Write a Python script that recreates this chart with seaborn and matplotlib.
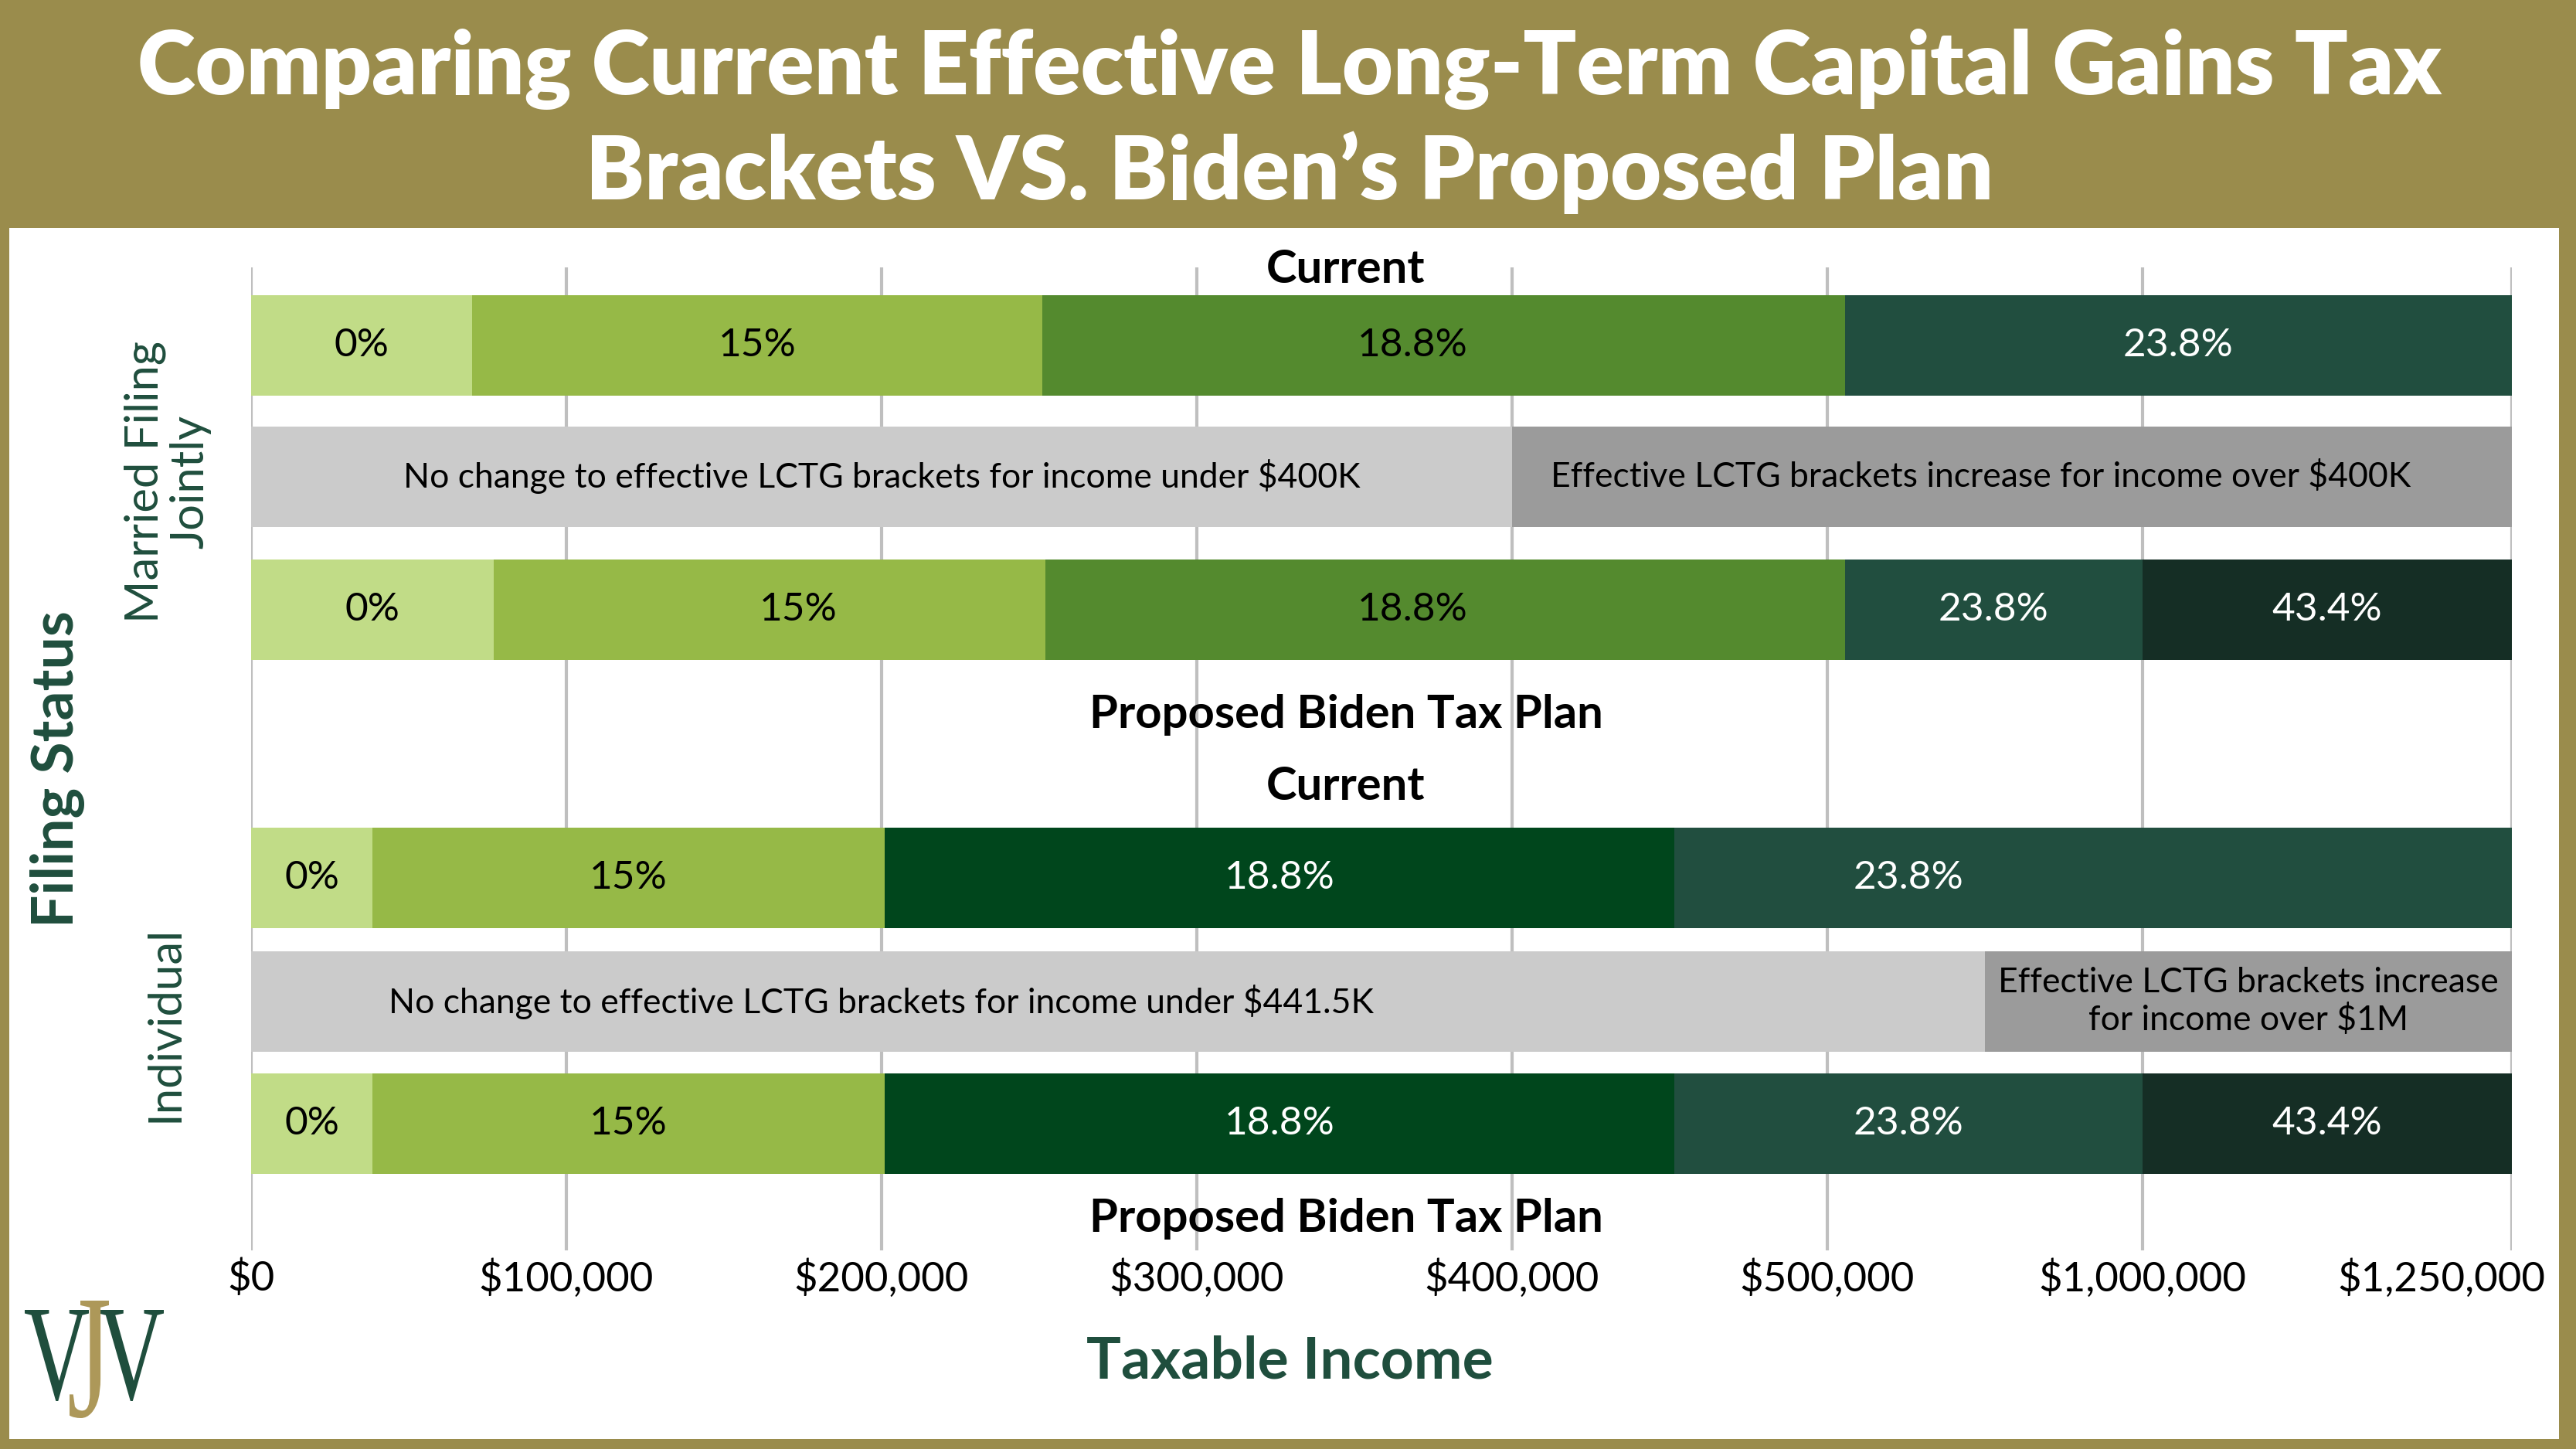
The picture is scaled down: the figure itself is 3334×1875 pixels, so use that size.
import numpy as np
import matplotlib
matplotlib.use("Agg")
import matplotlib.pyplot as plt
import matplotlib.transforms as mtrans
from matplotlib.patches import Rectangle, PathPatch
from matplotlib.textpath import TextPath
from matplotlib.font_manager import FontProperties
import seaborn as sns

# ---------------- data ----------------
tick_values = [0, 100000, 200000, 300000, 400000, 500000, 1000000, 1250000]
tick_labels = ["$0", "$100,000", "$200,000", "$300,000", "$400,000",
               "$500,000", "$1,000,000", "$1,250,000"]

mfj_current_edges = [0, 70000, 251000, 528000, 1250000]
mfj_current_labels = ["0%", "15%", "18.8%", "23.8%"]

mfj_change_edges = [0, 400000, 1250000]
mfj_change_labels = ["No change to effective LCTG brackets for income under $400K",
                     "Effective LCTG brackets increase for income over $400K"]

mfj_proposed_edges = [0, 77000, 252000, 528000, 1000000, 1250000]
mfj_proposed_labels = ["0%", "15%", "18.8%", "23.8%", "43.4%"]

ind_current_edges = [0, 38500, 201000, 451500, 1250000]
ind_current_labels = ["0%", "15%", "18.8%", "23.8%"]

ind_change_edges = [0, 750000, 1250000]
ind_change_labels = ["No change to effective LCTG brackets for income under $441.5K",
                     "Effective LCTG brackets increase\nfor income over $1M"]

ind_proposed_edges = [0, 38500, 201000, 451500, 1000000, 1250000]
ind_proposed_labels = ["0%", "15%", "18.8%", "23.8%", "43.4%"]

group_names = ["Married Filing\nJointly", "Individual"]

# ---------------- styles ----------------
OLIVE = "#9A8C4C"
DKGREEN = "#1F4E3D"
mfj_rate_colors = ["#C1DC87", "#96B947", "#548A2E", "#214E3F", "#152E25"]
ind_rate_colors = ["#C1DC87", "#96B947", "#00461C", "#214E3F", "#152E25"]
change_colors = ["#CBCBCB", "#9B9B9B"]
WHITE_TEXT = {"#00461C", "#214E3F", "#152E25"}

# income -> axis position (uneven category spacing of the original axis)
KN_IN = [0, 500000, 1000000, 1250000]
KN_OUT = [0.0, 5.0, 6.0, 7.172]


def _pw(x, xs, ys):
    x = np.asarray(x, dtype=float)
    y = np.interp(x, xs, ys)
    y = np.where(x < xs[0], ys[0] + (x - xs[0]) * (ys[1] - ys[0]) / (xs[1] - xs[0]), y)
    y = np.where(x > xs[-1], ys[-1] + (x - xs[-1]) * (ys[-1] - ys[-2]) / (xs[-1] - xs[-2]), y)
    return y


def fwd(x):
    return _pw(x, KN_IN, KN_OUT)


def inv(u):
    return _pw(u, KN_OUT, KN_IN)


sns.set_theme(style="white")
plt.rcParams["font.family"] = ["Lato", "DejaVu Sans"]

W, H = 3334, 1875
fig = plt.figure(figsize=(W / 100, H / 100), dpi=100, facecolor=OLIVE)


def fx(px):
    return px / W


def fy(py):
    return 1 - py / H


fig.add_artist(Rectangle((fx(12), fy(1862)), fx(3312) - fx(12), fy(295) - fy(1862),
                         transform=fig.transFigure, facecolor="white",
                         edgecolor="none", zorder=-5))

ax = fig.add_axes([fx(325), fy(1618), fx(3251) - fx(325), fy(346) - fy(1618)])
ax.set_facecolor("none")
ax.set_xscale("function", functions=(fwd, inv))

ROW_Y = [0.0, 1.0, 2.012, 4.053, 4.994, 5.924]
BAR_H = 0.765

rows = [
    (mfj_current_edges, mfj_current_labels, mfj_rate_colors, 37),
    (mfj_change_edges, mfj_change_labels, change_colors, 32),
    (mfj_proposed_edges, mfj_proposed_labels, mfj_rate_colors, 37),
    (ind_current_edges, ind_current_labels, ind_rate_colors, 37),
    (ind_change_edges, ind_change_labels, change_colors, 32),
    (ind_proposed_edges, ind_proposed_labels, ind_rate_colors, 37),
]

# label anchor overrides (as in the original chart, some labels are not centred)
label_override = {(3, 3): (451500, 1000000), (4, 0): (0, 400000),
                  (0, 2): (237000, 500000), (2, 2): (237000, 500000),
                  (2, 1): (95000, 252000), (1, 1): (380000, 1250000)}

for r, (edges, labels, colors, fs) in enumerate(rows):
    starts = np.array(edges[:-1], dtype=float)
    ends = np.array(edges[1:], dtype=float)
    cols = colors[:len(labels)]
    ax.barh([ROW_Y[r]] * len(labels), ends - starts, left=starts, height=BAR_H,
            color=cols, edgecolor="none", zorder=2)
    for i, lab in enumerate(labels):
        a, b = label_override.get((r, i), (starts[i], ends[i]))
        xm = float(inv((fwd(a) + fwd(b)) / 2))
        tc = "white" if cols[i] in WHITE_TEXT else "black"
        ax.text(xm, ROW_Y[r], lab, ha="center", va="center", fontsize=fs,
                color=tc, zorder=3, linespacing=1.2)

ax.set_xlim(0, 1250000)
ax.set_ylim(6.888, -0.594)
ax.set_xticks(tick_values)
ax.set_xticklabels(tick_labels, fontsize=38, color="black")
ax.set_yticks([])
ax.tick_params(axis="x", length=0, pad=8)
ax.xaxis.grid(True, color="#BFBFBF", lw=3)
ax.set_axisbelow(True)
for s in ax.spines.values():
    s.set_visible(False)
last = ax.get_xticklabels()[-1]
last.set_transform(last.get_transform() +
                   mtrans.ScaledTranslation(-0.91, 0, fig.dpi_scale_trans))

# section headings
bt = mtrans.blended_transform_factory(ax.transAxes, ax.transData)
for ytxt, txt in [(-0.575, "Current"), (2.81, "Proposed Biden Tax Plan"),
                  (3.36, "Current"), (6.647, "Proposed Biden Tax Plan")]:
    ax.text(0.4843, ytxt, txt, transform=bt, ha="center", va="center",
            fontsize=43, fontweight="bold", color="black", clip_on=False)

# title
fig.text(fx(1669), fy(122), "Comparing Current Effective Long-Term Capital Gains Tax",
         ha="center", va="baseline", fontsize=82, fontweight="heavy", color="white")
fig.text(fx(1669), fy(258), "Brackets VS. Biden\u2019s Proposed Plan",
         ha="center", va="baseline", fontsize=82, fontweight="heavy", color="white")

# axis titles
fig.text(fx(74), fy(995), "Filing Status", rotation=90, ha="center", va="center",
         fontsize=54, fontweight="bold", color=DKGREEN)
fig.text(fx(217), fy(623), group_names[0], rotation=90, ha="center", va="center",
         fontsize=43, color=DKGREEN, multialignment="center", linespacing=1.1)
fig.text(fx(213), fy(1325), group_names[1], rotation=90, ha="center", va="center",
         fontsize=43, color=DKGREEN)
fig.text(fx(1669), fy(1783), "Taxable Income", ha="center", va="baseline",
         fontsize=54, fontweight="bold", color=DKGREEN)

# logo
lax = fig.add_axes([fx(20), fy(1850), fx(240) - fx(20), fy(1670) - fy(1850)])
lax.set_xlim(20, 240)
lax.set_ylim(1850, 1670)
lax.axis("off")
serif = FontProperties(family="Liberation Serif")


def glyph(ch, x0, x1, ytop, ybot, color):
    tp = TextPath((0, 0), ch, size=100, prop=serif)
    e = tp.get_extents()
    tr = (mtrans.Affine2D().translate(-e.x0, -e.y0)
          .scale((x1 - x0) / e.width, -(ybot - ytop) / e.height)
          .translate(x0, ybot))
    lax.add_patch(PathPatch(tr.transform_path(tp), facecolor=color,
                            edgecolor="none"))


glyph("V", 32, 115, 1695, 1813, DKGREEN)
glyph("V", 128, 212, 1695, 1813, DKGREEN)
glyph("J", 90, 141, 1683, 1835, "#AD9859")

fig.savefig("out.png", dpi=100, facecolor=OLIVE)
